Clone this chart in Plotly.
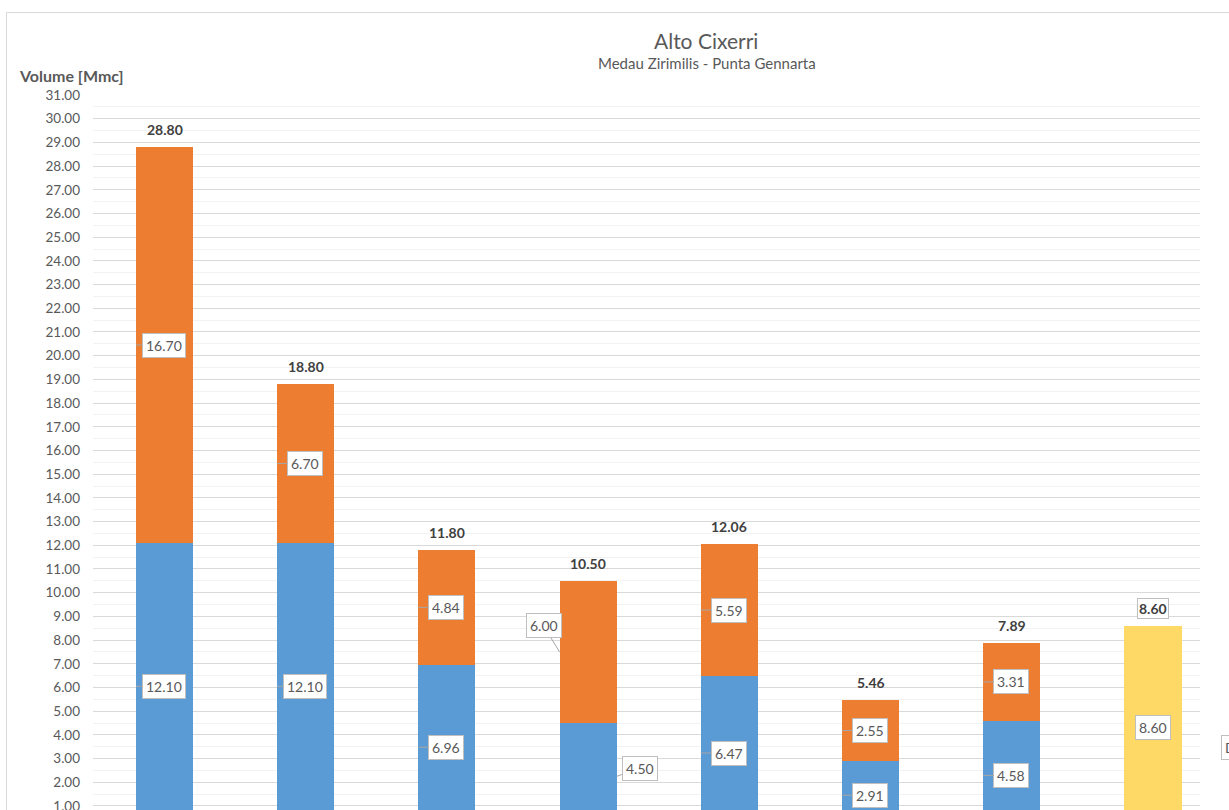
import plotly.graph_objects as go

# Positions of the columns along the x axis
positions = [0, 1, 2, 3, 4, 5, 6, 7]

# Stacked volumes [Mmc]
vol_blue = [12.10, 12.10, 6.96, 4.50, 6.47, 2.91, 4.58, None]
vol_orange = [16.70, 6.70, 4.84, 6.00, 5.59, 2.55, 3.31, None]
vol_yellow = [None, None, None, None, None, None, None, 8.60]
totals = [28.80, 18.80, 11.80, 10.50, 12.06, 5.46, 7.89, 8.60]

BLUE = "#5B9BD5"
ORANGE = "#ED7D31"
YELLOW = "#FFD966"
TXT = "#595959"
FONT = "Lato, Liberation Sans, sans-serif"

W, H = 1229, 810
ML, MR, MT, MB = 93, 29, 95, 0
BAR_W = 0.404
X_RANGE = [-0.5064, 7.333]
Y_RANGE = [0.83, 31.0]

fig = go.Figure()
for vals, col in [(vol_blue, BLUE), (vol_orange, ORANGE), (vol_yellow, YELLOW)]:
    fig.add_trace(go.Bar(
        x=positions, y=vals, width=BAR_W, marker_color=col,
        marker_line_width=0, showlegend=False, hoverinfo="skip",
    ))

annotations = []

def callout(x, y, val, ax=28, ay=0, arrow=True):
    annotations.append(dict(
        x=x, y=y, xref="x", yref="y", text=f"{val:.2f}",
        showarrow=arrow, ax=ax, ay=ay, axref="pixel", ayref="pixel",
        arrowhead=0, arrowwidth=1, arrowcolor="#A6A6A6",
        bgcolor="white", bordercolor="#BFBFBF", borderwidth=1, borderpad=3,
        font=dict(family=FONT, size=14, color=TXT),
    ))

half = BAR_W / 2
for i, p in enumerate(positions):
    b, o = vol_blue[i], vol_orange[i]
    if b is not None:
        mid_b = b / 2
        mid_o = b + o / 2
        if i == 3:
            # labels of the fourth column are moved off the bar
            callout(p + half, mid_b, b, ax=23, ay=-8)
            callout(p - half, mid_o, o, ax=-16, ay=-26)
        else:
            callout(p - half, mid_b, b)
            callout(p - half, mid_o, o)
    if vol_yellow[i] is not None:
        callout(p, vol_yellow[i] / 2, vol_yellow[i], arrow=False)

# totals above each column
for i, p in enumerate(positions):
    boxed = vol_yellow[i] is not None
    annotations.append(dict(
        x=p, y=totals[i], xref="x", yref="y", text=f"<b>{totals[i]:.2f}</b>",
        showarrow=False, yanchor="bottom", yshift=8 if not boxed else 7,
        font=dict(family=FONT, size=14, color="#404040"),
        bgcolor="white" if boxed else None,
        bordercolor="#BFBFBF" if boxed else None,
        borderwidth=1 if boxed else 0, borderpad=1,
    ))

def px_x(px):
    return (px - ML) / (W - ML - MR)

def px_y(py):
    return 1 + (MT - py) / (H - MT - MB)

# titles
annotations.append(dict(
    x=px_x(706), y=px_y(40), xref="paper", yref="paper", text="Alto Cixerri",
    showarrow=False, xanchor="center", yanchor="middle",
    font=dict(family=FONT, size=21, color=TXT),
))
annotations.append(dict(
    x=px_x(707), y=px_y(63), xref="paper", yref="paper",
    text="Medau Zirimilis - Punta Gennarta",
    showarrow=False, xanchor="center", yanchor="middle",
    font=dict(family=FONT, size=15, color=TXT),
))
annotations.append(dict(
    x=px_x(17), y=px_y(75), xref="paper", yref="paper", text="<b>Volume [Mmc]</b>",
    showarrow=False, xanchor="left", yanchor="middle",
    font=dict(family=FONT, size=16, color=TXT),
))
# label box at the right edge
annotations.append(dict(
    x=px_x(1221), y=px_y(747), xref="paper", yref="paper", text="D",
    showarrow=False, xanchor="left", yanchor="middle",
    bgcolor="white", bordercolor="#BFBFBF", borderwidth=1, borderpad=3,
    font=dict(family=FONT, size=14, color=TXT),
))

shapes = [dict(
    type="rect", xref="paper", yref="paper",
    x0=px_x(6.5), x1=px_x(1500), y0=px_y(12.5), y1=px_y(1200),
    line=dict(color="#D9D9D9", width=1), fillcolor="rgba(0,0,0,0)", layer="below",
)]

fig.update_layout(
    width=W, height=H,
    margin=dict(l=ML, r=MR, t=MT, b=MB, pad=0, autoexpand=False),
    paper_bgcolor="white", plot_bgcolor="white",
    barmode="stack", bargap=0,
    font=dict(family=FONT, color=TXT),
    annotations=annotations, shapes=shapes,
    xaxis=dict(range=X_RANGE, showticklabels=False, showgrid=False,
               zeroline=False, showline=False, ticks="", automargin=False),
    yaxis=dict(
        range=Y_RANGE, tick0=0, dtick=1, tickformat=".2f",
        showgrid=True, gridcolor="#D9D9D9", gridwidth=1,
        minor=dict(dtick=0.5, showgrid=True, gridcolor="#F2F2F2", gridwidth=1),
        zeroline=False, showline=False, ticks="",
        ticklabelstandoff=12, ticklabeloverflow="allow", automargin=False,
        tickfont=dict(family=FONT, size=13.5, color=TXT),
    ),
)

fig.write_html("out.html")
